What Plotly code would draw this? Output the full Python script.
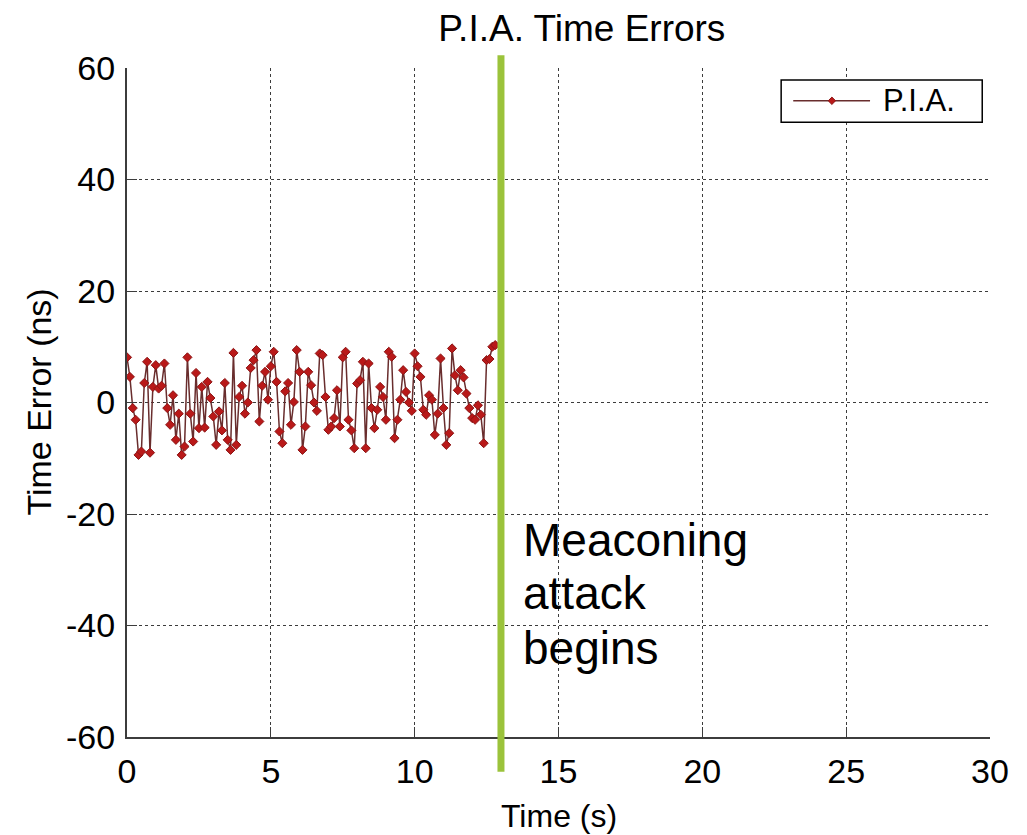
import plotly.graph_objects as go

# time (s) and error (ns)
time_s = [0.0, 0.1, 0.2, 0.3, 0.4, 0.5, 0.6, 0.7, 0.8, 0.9,
          1.0, 1.1, 1.2, 1.3, 1.4, 1.5, 1.6, 1.7, 1.8, 1.9,
          2.0, 2.1, 2.2, 2.3, 2.4, 2.5, 2.6, 2.7, 2.8, 2.9,
          3.0, 3.1, 3.2, 3.3, 3.4, 3.5, 3.6, 3.7, 3.8, 3.9,
          4.0, 4.1, 4.2, 4.3, 4.4, 4.5, 4.6, 4.7, 4.8, 4.9,
          5.0, 5.1, 5.2, 5.3, 5.4, 5.5, 5.6, 5.7, 5.8, 5.9,
          6.0, 6.1, 6.2, 6.3, 6.4, 6.5, 6.6, 6.7, 6.8, 6.9,
          7.0, 7.1, 7.2, 7.3, 7.4, 7.5, 7.6, 7.7, 7.8, 7.9,
          8.0, 8.1, 8.2, 8.3, 8.4, 8.5, 8.6, 8.7, 8.8, 8.9,
          9.0, 9.1, 9.2, 9.3, 9.4, 9.5, 9.6, 9.7, 9.8, 9.9,
          10.0, 10.1, 10.2, 10.3, 10.4, 10.5, 10.6, 10.7, 10.8, 10.9,
          11.0, 11.1, 11.2, 11.3, 11.4, 11.5, 11.6, 11.7, 11.8, 11.9,
          12.0, 12.1, 12.2, 12.3, 12.4, 12.5, 12.6, 12.7, 12.8]
error_ns = [8.1, 4.6, -1.0, -3.1, -9.4, -8.8, 3.5, 7.3, -9.0, 2.8,
            6.7, 2.5, 3.0, 7.0, -1.0, -4.0, 1.3, -6.7, -2.0, -9.4,
            -7.9, 8.1, -2.0, -7.0, 5.3, -4.6, 2.8, -4.5, 3.7, 0.8,
            -2.5, -7.6, -1.6, -5.0, 3.5, -6.7, -8.5, 8.9, -7.6, 1.0,
            3.0, -2.0, 0.0, 6.2, 7.6, 9.4, -3.4, 3.0, 5.5, 0.5,
            6.5, 9.1, 3.7, -5.2, -7.3, 2.0, 3.5, -4.0, 0.1, 9.4,
            5.5, -8.5, -4.3, 5.5, 3.1, 0.0, -1.5, 8.8, 8.5, 1.0,
            -4.9, -4.3, -2.8, 2.2, -4.3, 8.1, 9.1, -3.1, -5.0, -8.2,
            3.4, 4.0, 7.3, -8.2, 7.0, -1.0, -4.6, -1.3, 2.8, 1.0,
            -3.1, 9.1, 8.2, -6.4, -3.1, 0.5, 5.8, 1.9, 0.0, -1.5,
            8.8, 6.5, 4.6, -1.3, -2.2, 1.3, 0.5, -5.8, -2.0, 7.9,
            -1.0, -7.6, -5.5, 9.7, 4.9, 2.2, 5.8, 4.5, 1.6, -1.0,
            -2.8, -3.1, -0.5, -2.2, -7.3, 7.6, 7.8, 10.0, 10.3]

x_ticks = [0, 5, 10, 15, 20, 25, 30]
y_ticks = [-60, -40, -20, 0, 20, 40, 60]
y_tick_labels = ["-60", "-40", "-20", "0", "20", "40", "60"]

attack_time = 13.0
note_lines = ["Meaconing", "attack", "begins"]
note_y = [-24.7, -34.2, -44.0]

fnt = "Liberation Sans, Arial, sans-serif"
line_col = "rgb(105,45,45)"
mark_col = "rgb(185,25,25)"

fig = go.Figure()
fig.add_trace(go.Scatter(
    x=time_s, y=error_ns, mode="lines+markers", name="P.I.A.",
    line=dict(color=line_col, width=1.5),
    marker=dict(symbol="diamond", size=7, color=mark_col,
                line=dict(color="rgb(140,20,20)", width=1)),
    showlegend=False,
))

# green marker line for the attack
fig.add_shape(type="line", xref="x", yref="paper",
              x0=attack_time, x1=attack_time, y0=-0.052, y1=1.019,
              line=dict(color="#9BC33B", width=7), layer="above")

for txt, yy in zip(note_lines, note_y):
    fig.add_annotation(x=13.7, xref="x", xanchor="left",
                       y=yy, yref="y", yanchor="middle",
                       text=txt, showarrow=False,
                       font=dict(family=fnt, size=46, color="black"))

# legend box drawn by hand (MATLAB style, long line sample)
fig.add_shape(type="rect", xref="paper", yref="paper",
              x0=0.758, x1=0.991, y0=0.919, y1=0.982,
              line=dict(color="black", width=1.5), fillcolor="white",
              layer="above")
fig.add_shape(type="line", xref="paper", yref="paper",
              x0=0.772, x1=0.861, y0=0.951, y1=0.951,
              line=dict(color=line_col, width=1.5), layer="above")
fig.add_shape(type="path", xref="paper", yref="paper",
              path="M 0.8125 0.951 L 0.8168 0.9565 L 0.8211 0.951 L 0.8168 0.9455 Z",
              line=dict(color="rgb(140,20,20)", width=1), fillcolor=mark_col,
              layer="above")
fig.add_annotation(text="P.I.A.", xref="paper", yref="paper",
                   x=0.874, xanchor="left", y=0.951, yanchor="middle",
                   showarrow=False,
                   font=dict(family=fnt, size=31, color="black"))

# axis titles
fig.add_annotation(text="Time Error (ns)", xref="paper", yref="paper",
                   x=-0.103, xanchor="center", y=0.5, yanchor="middle",
                   textangle=-90, showarrow=False,
                   font=dict(family=fnt, size=34, color="black"))
fig.add_annotation(text="Time (s)", xref="paper", yref="paper",
                   x=0.5, xanchor="center", y=-0.118, yanchor="middle",
                   showarrow=False,
                   font=dict(family=fnt, size=32, color="black"))

axis_common = dict(
    showgrid=True, gridcolor="rgb(60,60,60)", griddash="dot", gridwidth=1,
    ticks="inside", ticklen=10, tickcolor="rgb(60,60,60)",
    showline=True, linecolor="rgb(60,60,60)", linewidth=2,
    zeroline=False, tickfont=dict(family=fnt, size=34, color="black"),
)

fig.update_layout(
    width=1027, height=835,
    margin=dict(l=119, r=45, t=60, b=106),
    paper_bgcolor="white", plot_bgcolor="white",
    title=dict(text="P.I.A. Time Errors", x=0.527, xref="paper",
               xanchor="center", y=0.976, yref="container", yanchor="middle",
               font=dict(family=fnt, size=37, color="black")),
    xaxis=dict(range=[0, 30], tickvals=x_ticks,
               ticklabelstandoff=3, **axis_common),
    yaxis=dict(range=[-60, 60], tickvals=y_ticks, ticktext=y_tick_labels,
               ticklabelstandoff=3, **axis_common),
    showlegend=False,
)

fig.write_html("out.html")
